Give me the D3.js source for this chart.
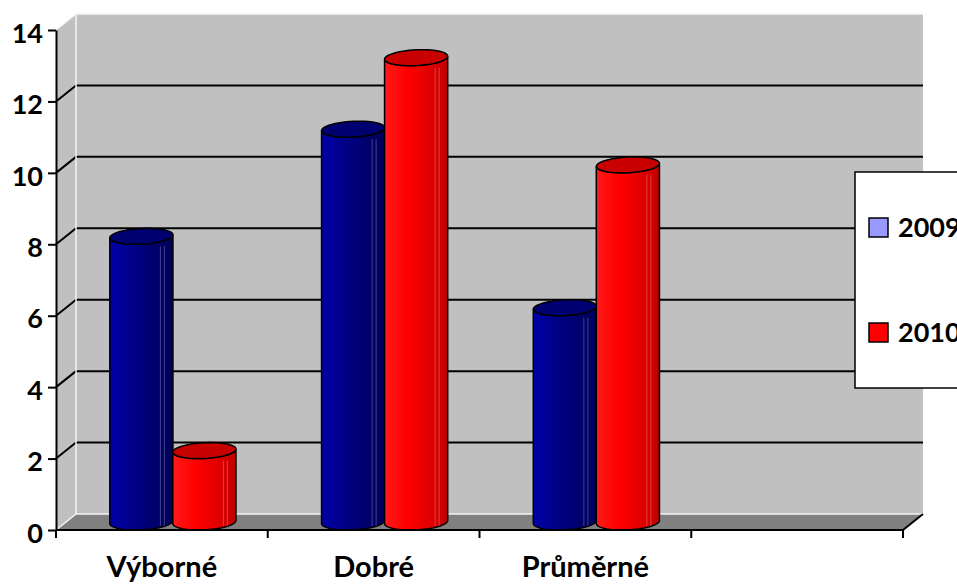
<!DOCTYPE html>
<html>
<head>
<meta charset="utf-8">
<script src="https://cdn.jsdelivr.net/npm/d3@7"></script>
<style>
  body { margin: 0; background: #fff; }
  text { font-family: Lato, "Open Sans", sans-serif; font-weight: bold; }
</style>
</head>
<body>
<div id="chart-area"></div>
<script>
// data
var categories = ['Výborné', 'Dobré', 'Průměrné', ''];
var seriesNames = ['2009', '2010'];
var values2009 = [8, 11, 6];
var values2010 = [2, 13, 10];
var yTicks = [0, 2, 4, 6, 8, 10, 12, 14];

var width = 957;
var height = 584;

// depth of the 3D box (back wall offset)
var depth = { dx: 20, dy: -16 };

var svg = d3.select('#chart-area')
  .append('svg')
    .attr('width', width)
    .attr('height', height);

var defs = svg.append('defs');

// front plane scales
var y = d3.scaleLinear()
  .domain([0, 14])
  .range([530, 30]);

var x0 = d3.scaleBand()
  .domain(categories)
  .range([56, 903]);

var x1 = d3.scaleBand()
  .domain(seriesNames)
  .range([0, 126]);

var colors = {
  '2009': { stops: ['#0000a8', '#000088', '#00006a', '#000058'], cap: '#000070', legend: '#9999ff' },
  '2010': { stops: ['#ff1a1a', '#ff0000', '#dd0000', '#c00000'], cap: '#c80000', legend: '#ff0000' }
};

seriesNames.forEach(function (s) {
  var g = defs.append('linearGradient')
    .attr('id', 'grad' + s)
    .attr('x1', 0).attr('x2', 1).attr('y1', 0).attr('y2', 0);
  colors[s].stops.forEach(function (c, i) {
    g.append('stop')
      .attr('offset', [0, 0.35, 0.75, 1][i])
      .attr('stop-color', c);
  });
});

var wallTop = y(14) + depth.dy;
var wallBottom = y(0) + depth.dy;
var wallLeft = 56 + depth.dx;
var wallRight = 903 + depth.dx;

// side wall
svg.append('polygon')
  .attr('points', [[56, y(14)], [wallLeft, wallTop], [wallLeft, wallBottom], [56, y(0)]].join(' '))
  .attr('fill', '#c0c0c0');

// back wall
svg.append('rect')
  .attr('x', wallLeft)
  .attr('y', wallTop)
  .attr('width', wallRight - wallLeft)
  .attr('height', wallBottom - wallTop)
  .attr('fill', '#c0c0c0');

// floor
svg.append('polygon')
  .attr('points', [[56, y(0)], [wallLeft, wallBottom], [wallRight, wallBottom], [903, y(0)]].join(' '))
  .attr('fill', '#808080');

// gridlines on the back wall and the side wall
yTicks.filter(function (t) { return t > 0 && t < 14; }).forEach(function (t) {
  svg.append('line')
    .attr('x1', wallLeft).attr('x2', wallRight)
    .attr('y1', y(t) + depth.dy).attr('y2', y(t) + depth.dy)
    .attr('stroke', '#000').attr('stroke-width', 2);
  svg.append('line')
    .attr('x1', 56).attr('x2', wallLeft)
    .attr('y1', y(t)).attr('y2', y(t) + depth.dy)
    .attr('stroke', '#000').attr('stroke-width', 2);
});

// white edges of the walls
svg.append('path')
  .attr('d', 'M56,' + y(14) + 'L' + wallLeft + ',' + wallTop + 'L' + wallRight + ',' + wallTop +
    'M' + wallLeft + ',' + wallTop + 'L' + wallLeft + ',' + wallBottom + 'L' + wallRight + ',' + wallBottom +
    'M56,' + y(0) + 'L' + wallLeft + ',' + wallBottom)
  .attr('fill', 'none')
  .attr('stroke', '#f4f4f4')
  .attr('stroke-width', 1.5);

// right edge of the floor
svg.append('line')
  .attr('x1', 903).attr('y1', y(0))
  .attr('x2', wallRight).attr('y2', wallBottom)
  .attr('stroke', '#000').attr('stroke-width', 2);

// cylinder geometry (oblique circle)
var ra = 31, rb = 6, rc = 8;
var th0 = Math.atan2(rb, ra);

function ellPoint(cx, cy, t) {
  return [cx + ra * Math.cos(t) + rb * Math.sin(t), cy - rc * Math.sin(t)];
}

function ellArc(cx, cy, tStart, tEnd) {
  return d3.range(0, 41).map(function (i) {
    return ellPoint(cx, cy, tStart + (tEnd - tStart) * i / 40);
  });
}

var line = d3.line();

function bodyPath(cx, yTop, yBot) {
  // bottom front half, then top front half reversed
  var bottom = ellArc(cx, yBot, th0 + Math.PI, th0 + 2 * Math.PI);
  var top = ellArc(cx, yTop, th0 + 2 * Math.PI, th0 + Math.PI);
  return line(bottom.concat(top)) + 'Z';
}

function capPath(cx, yTop) {
  return line(ellArc(cx, yTop, 0, 2 * Math.PI)) + 'Z';
}

var barData = [];
categories.slice(0, 3).forEach(function (cat, i) {
  barData.push({ cat: cat, series: '2009', value: values2009[i] });
  barData.push({ cat: cat, series: '2010', value: values2010[i] });
});

function barCx(d) {
  return x0(d.cat) + x0.bandwidth() / 2 - 63 + x1(d.series) + x1.bandwidth() / 2 + depth.dx / 2 + 1;
}

var bars = svg.selectAll('g.bar')
  .data(barData)
  .enter()
  .append('g')
    .attr('class', 'bar');

bars.append('path')
  .attr('d', function (d) { return bodyPath(barCx(d), y(d.value) + depth.dy / 2, y(0) + depth.dy / 2); })
  .attr('fill', function (d) { return 'url(#grad' + d.series + ')'; })
  .attr('stroke', '#000')
  .attr('stroke-width', 1.5);

// thin highlight stripes near the right side
[12, 8].forEach(function (off) {
  bars.append('line')
    .attr('x1', function (d) { return barCx(d) + 31 - off; })
    .attr('x2', function (d) { return barCx(d) + 31 - off; })
    .attr('y1', function (d) { return y(d.value) + 2; })
    .attr('y2', function (d) { return y(0) - 4; })
    .attr('stroke', '#ffffff')
    .attr('stroke-opacity', 0.25)
    .attr('stroke-width', 1);
});

bars.append('path')
  .attr('d', function (d) { return capPath(barCx(d), y(d.value) + depth.dy / 2); })
  .attr('fill', function (d) { return colors[d.series].cap; })
  .attr('stroke', '#000')
  .attr('stroke-width', 1.5);

// y axis
var yAxis = svg.append('g')
  .attr('transform', 'translate(56,0)')
  .call(d3.axisLeft(y).tickValues(yTicks).tickSize(8).tickSizeOuter(0).tickPadding(5));
yAxis.select('.domain').attr('stroke-width', 2);
yAxis.selectAll('.tick line').attr('stroke-width', 2);
yAxis.selectAll('text')
  .attr('font-size', '27px')
  .attr('font-family', 'Lato, sans-serif')
  .attr('font-weight', 'bold')
  .attr('fill', '#000')
  .attr('dy', '0.45em');

// x axis along the front of the floor
svg.append('line')
  .attr('x1', 56).attr('x2', 903)
  .attr('y1', y(0)).attr('y2', y(0))
  .attr('stroke', '#000').attr('stroke-width', 2);

var bounds = categories.map(function (c) { return x0(c); }).concat([903]);
svg.selectAll('line.xtick')
  .data(bounds)
  .enter()
  .append('line')
    .attr('class', 'xtick')
    .attr('x1', function (d) { return d; })
    .attr('x2', function (d) { return d; })
    .attr('y1', y(0))
    .attr('y2', y(0) + 8)
    .attr('stroke', '#000')
    .attr('stroke-width', 2);

svg.selectAll('text.xlabel')
  .data(categories)
  .enter()
  .append('text')
    .attr('class', 'xlabel')
    .attr('x', function (d) { return x0(d) + x0.bandwidth() / 2; })
    .attr('y', 577)
    .attr('text-anchor', 'middle')
    .attr('font-size', '29px')
    .text(function (d) { return d; });

// legend
var legend = svg.append('g');
legend.append('rect')
  .attr('x', 855)
  .attr('y', 172)
  .attr('width', 130)
  .attr('height', 216)
  .attr('fill', '#fff')
  .attr('stroke', '#000')
  .attr('stroke-width', 1.5);

seriesNames.forEach(function (s, i) {
  var ly = 218 + i * 105;
  legend.append('rect')
    .attr('x', 869)
    .attr('y', ly)
    .attr('width', 19)
    .attr('height', 19)
    .attr('fill', colors[s].legend)
    .attr('stroke', '#000')
    .attr('stroke-width', 1.5);
  legend.append('text')
    .attr('x', 898)
    .attr('y', ly + 19)
    .attr('font-size', '27px')
    .text(s);
});
</script>
</body>
</html>
